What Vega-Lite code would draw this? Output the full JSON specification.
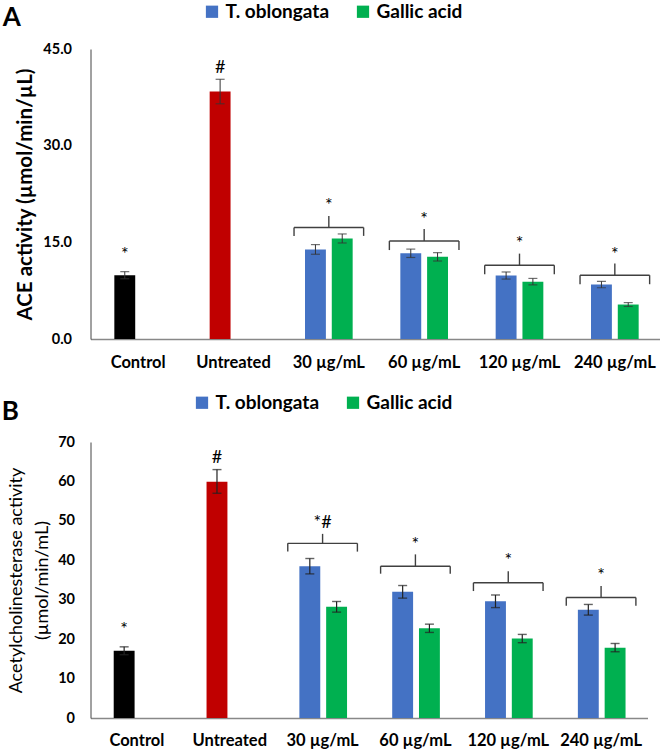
{
  "$schema": "https://vega.github.io/schema/vega-lite/v6.json",
  "padding": {"left": 1.5, "top": 2, "right": 0, "bottom": 0},
  "config": {
    "font": "Lato",
    "view": {"stroke": null},
    "axis": {"labelColor": "#000", "titleColor": "#000", "grid": false, "ticks": false, "labelOverlap": false}
  },
  "resolve": {"scale": {"color": "independent"}, "legend": {"color": "independent"}},
  "spacing": 22,
  "datasets": {
    "barsA": [
      {"cat": "Control", "series": "Control", "slot": "L", "value": 9.9, "lo": 9.35, "hi": 10.45},
      {"cat": "Untreated", "series": "Untreated", "slot": "L", "value": 38.4, "lo": 36.5, "hi": 40.3},
      {"cat": "30 µg/mL", "series": "T. oblongata", "slot": "L", "value": 13.9, "lo": 13.15, "hi": 14.65},
      {"cat": "30 µg/mL", "series": "Gallic acid", "slot": "R", "value": 15.6, "lo": 14.9, "hi": 16.3},
      {"cat": "60 µg/mL", "series": "T. oblongata", "slot": "L", "value": 13.3, "lo": 12.65, "hi": 13.95},
      {"cat": "60 µg/mL", "series": "Gallic acid", "slot": "R", "value": 12.75, "lo": 12.1, "hi": 13.4},
      {"cat": "120 µg/mL", "series": "T. oblongata", "slot": "L", "value": 9.85, "lo": 9.3, "hi": 10.4},
      {"cat": "120 µg/mL", "series": "Gallic acid", "slot": "R", "value": 8.9, "lo": 8.4, "hi": 9.4},
      {"cat": "240 µg/mL", "series": "T. oblongata", "slot": "L", "value": 8.45, "lo": 7.95, "hi": 8.95},
      {"cat": "240 µg/mL", "series": "Gallic acid", "slot": "R", "value": 5.35, "lo": 5.05, "hi": 5.65}
    ],
    "marksA": [
      {"cat": "Control", "slot": "L", "y": 13.0, "label": "*"},
      {"cat": "Untreated", "slot": "L", "y": 42.1, "label": "#"}
    ],
    "bracesA": [
      {"cat": "30 µg/mL", "yb": 17.3, "yhook": 16.0, "ynub": 19.1, "ylab": 20.7, "label": "*"},
      {"cat": "60 µg/mL", "yb": 15.2, "yhook": 13.8, "ynub": 17.05, "ylab": 18.5, "label": "*"},
      {"cat": "120 µg/mL", "yb": 11.45, "yhook": 10.05, "ynub": 13.25, "ylab": 14.8, "label": "*"},
      {"cat": "240 µg/mL", "yb": 9.9, "yhook": 8.5, "ynub": 11.7, "ylab": 13.1, "label": "*"}
    ],
    "barsB": [
      {"cat": "Control", "series": "Control", "slot": "L", "value": 17.05, "lo": 16.05, "hi": 18.05},
      {"cat": "Untreated", "series": "Untreated", "slot": "L", "value": 59.9, "lo": 57.0, "hi": 63.0},
      {"cat": "30 µg/mL", "series": "T. oblongata", "slot": "L", "value": 38.5, "lo": 36.55, "hi": 40.45},
      {"cat": "30 µg/mL", "series": "Gallic acid", "slot": "R", "value": 28.2, "lo": 26.85, "hi": 29.55},
      {"cat": "60 µg/mL", "series": "T. oblongata", "slot": "L", "value": 32.0, "lo": 30.4, "hi": 33.6},
      {"cat": "60 µg/mL", "series": "Gallic acid", "slot": "R", "value": 22.75, "lo": 21.7, "hi": 23.8},
      {"cat": "120 µg/mL", "series": "T. oblongata", "slot": "L", "value": 29.6, "lo": 28.0, "hi": 31.2},
      {"cat": "120 µg/mL", "series": "Gallic acid", "slot": "R", "value": 20.15, "lo": 19.1, "hi": 21.2},
      {"cat": "240 µg/mL", "series": "T. oblongata", "slot": "L", "value": 27.45, "lo": 26.1, "hi": 28.8},
      {"cat": "240 µg/mL", "series": "Gallic acid", "slot": "R", "value": 17.8, "lo": 16.8, "hi": 18.9}
    ],
    "marksB": [
      {"cat": "Control", "slot": "L", "y": 22.3, "label": "*"},
      {"cat": "Untreated", "slot": "L", "y": 66.0, "label": "#"}
    ],
    "bracesB": [
      {"cat": "30 µg/mL", "yb": 44.3, "yhook": 42.2, "ynub": 46.7, "ylab": 49.4, "label": "*#"},
      {"cat": "60 µg/mL", "yb": 38.5, "yhook": 36.6, "ynub": 41.5, "ylab": 44.0, "label": "*"},
      {"cat": "120 µg/mL", "yb": 34.3, "yhook": 32.2, "ynub": 37.2, "ylab": 39.7, "label": "*"},
      {"cat": "240 µg/mL", "yb": 30.55, "yhook": 28.45, "ynub": 33.5, "ylab": 35.95, "label": "*"}
    ]
  },
  "vconcat": [
    {
      "title": {"text": "A", "anchor": "start", "frame": "bounds", "fontSize": 26, "fontWeight": "bold", "color": "#000", "dy": 33, "dx": -13},
      "width": 572,
      "height": 290,
      "resolve": {"scale": {"x": "independent"}},
      "layer": [
        {
          "data": {"name": "barsA"},
          "layer": [
            {
              "mark": {"type": "bar"},
              "encoding": {
                "x": {"field": "cat", "type": "nominal", "sort": null,
                  "scale": {"domain": ["Control", "Untreated", "30 µg/mL", "60 µg/mL", "120 µg/mL", "240 µg/mL"], "paddingInner": 0.5, "paddingOuter": 0.25},
                  "axis": {"title": null, "labelAngle": 0, "labelPadding": 15, "labelFontSize": 16.5, "labelFontWeight": "bold", "domainColor": "#888", "domainWidth": 1.5}},
                "xOffset": {"field": "slot", "type": "nominal", "scale": {"domain": ["L", "R"], "paddingInner": 0.22, "paddingOuter": 0}},
                "y": {"field": "value", "type": "quantitative",
                  "scale": {"domain": [0, 45], "nice": false},
                  "axis": {"title": "ACE activity (µmol/min/µL)", "values": [0, 15, 30, 45], "format": ".1f", "labelOverlap": false, "labelPadding": 19, "labelFontSize": 14.5, "labelFontWeight": "bold", "titleFontSize": 20.5, "titleFontWeight": "bold", "titlePadding": 7, "domainColor": "#444"}},
                "color": {"field": "series", "type": "nominal",
                  "scale": {"domain": ["T. oblongata", "Gallic acid", "Control", "Untreated"], "range": ["#4472C4", "#00B050", "#000000", "#C00000"]},
                  "legend": {"values": ["T. oblongata", "Gallic acid"], "title": null, "orient": "none", "direction": "horizontal", "legendX": 112, "legendY": -47, "symbolType": "square", "symbolSize": 150, "symbolStrokeWidth": 0, "labelFontSize": 19, "labelFontWeight": "bold", "labelColor": "#000", "columnPadding": 24, "labelOffset": 4}}
              }
            },
            {
              "mark": {"type": "rule", "color": "#333", "strokeWidth": 1},
              "encoding": {
                "x": {"field": "cat", "type": "nominal", "bandPosition": 0.5},
                "xOffset": {"field": "slot", "type": "nominal"},
                "y": {"field": "lo", "type": "quantitative"},
                "y2": {"field": "hi"}
              }
            },
            {
              "mark": {"type": "tick", "color": "#333", "size": 9, "thickness": 1.2},
              "encoding": {
                "x": {"field": "cat", "type": "nominal"},
                "xOffset": {"field": "slot", "type": "nominal"},
                "y": {"field": "lo", "type": "quantitative"}
              }
            },
            {
              "mark": {"type": "tick", "color": "#333", "size": 9, "thickness": 1.2},
              "encoding": {
                "x": {"field": "cat", "type": "nominal"},
                "xOffset": {"field": "slot", "type": "nominal"},
                "y": {"field": "hi", "type": "quantitative"}
              }
            },
            {
              "data": {"name": "marksA"},
              "mark": {"type": "text", "fontSize": 18, "baseline": "middle", "color": "#000"},
              "encoding": {
                "x": {"field": "cat", "type": "nominal"},
                "xOffset": {"field": "slot", "type": "nominal"},
                "y": {"field": "y", "type": "quantitative"},
                "text": {"field": "label"}
              }
            }
          ]
        },
        {
          "data": {"name": "bracesA"},
          "layer": [
            {
              "mark": {"type": "rule", "color": "#404040", "strokeWidth": 1.4},
              "encoding": {
                "x": {"field": "cat", "type": "nominal", "bandPosition": 0,
                  "scale": {"domain": ["Control", "Untreated", "30 µg/mL", "60 µg/mL", "120 µg/mL", "240 µg/mL"], "paddingInner": 0.27, "paddingOuter": 0.135}, "axis": null},
                "x2": {"field": "cat", "bandPosition": 1},
                "y": {"field": "yb", "type": "quantitative"}
              }
            },
            {
              "mark": {"type": "rule", "color": "#404040", "strokeWidth": 1.4},
              "encoding": {
                "x": {"field": "cat", "type": "nominal", "bandPosition": 0, "axis": null},
                "y": {"field": "yb", "type": "quantitative"},
                "y2": {"field": "yhook"}
              }
            },
            {
              "mark": {"type": "rule", "color": "#404040", "strokeWidth": 1.4},
              "encoding": {
                "x": {"field": "cat", "type": "nominal", "bandPosition": 1, "axis": null},
                "y": {"field": "yb", "type": "quantitative"},
                "y2": {"field": "yhook"}
              }
            },
            {
              "mark": {"type": "rule", "color": "#404040", "strokeWidth": 1.4},
              "encoding": {
                "x": {"field": "cat", "type": "nominal", "bandPosition": 0.5, "axis": null},
                "y": {"field": "yb", "type": "quantitative"},
                "y2": {"field": "ynub"}
              }
            },
            {
              "mark": {"type": "text", "fontSize": 18, "baseline": "middle", "color": "#000"},
              "encoding": {
                "x": {"field": "cat", "type": "nominal", "bandPosition": 0.5, "axis": null},
                "y": {"field": "ylab", "type": "quantitative"},
                "text": {"field": "label"}
              }
            }
          ]
        }
      ]
    },
    {
      "title": {"text": "B", "anchor": "start", "frame": "bounds", "fontSize": 26, "fontWeight": "bold", "color": "#000", "dy": 36, "dx": -6},
      "width": 557,
      "height": 276,
      "resolve": {"scale": {"x": "independent"}},
      "layer": [
        {
          "data": {"name": "barsB"},
          "layer": [
            {
              "mark": {"type": "bar"},
              "encoding": {
                "x": {"field": "cat", "type": "nominal", "sort": null,
                  "scale": {"domain": ["Control", "Untreated", "30 µg/mL", "60 µg/mL", "120 µg/mL", "240 µg/mL"], "paddingInner": 0.5, "paddingOuter": 0.25},
                  "axis": {"title": null, "labelAngle": 0, "labelPadding": 14, "labelFontSize": 16.5, "labelFontWeight": "bold", "domainColor": "#888", "domainWidth": 1.5}},
                "xOffset": {"field": "slot", "type": "nominal", "scale": {"domain": ["L", "R"], "paddingInner": 0.22, "paddingOuter": 0}},
                "y": {"field": "value", "type": "quantitative",
                  "scale": {"domain": [0, 70], "nice": false},
                  "axis": {"title": ["Acetylcholinesterase activity", "(µmol/min/mL)"], "values": [0, 10, 20, 30, 40, 50, 60, 70], "tickCount": 8, "format": "d", "labelOverlap": false, "labelSeparation": 0, "labelPadding": 16, "labelFontSize": 14.5, "labelFontWeight": "bold", "titleFontSize": 18, "titleFontWeight": "normal", "titleLineHeight": 26, "titlePadding": 6, "domainColor": "#444"}},
                "color": {"field": "series", "type": "nominal",
                  "scale": {"domain": ["T. oblongata", "Gallic acid", "Control", "Untreated"], "range": ["#4472C4", "#00B050", "#000000", "#C00000"]},
                  "legend": {"values": ["T. oblongata", "Gallic acid"], "title": null, "orient": "none", "direction": "horizontal", "legendX": 102, "legendY": -49, "symbolType": "square", "symbolSize": 150, "symbolStrokeWidth": 0, "labelFontSize": 19, "labelFontWeight": "bold", "labelColor": "#000", "columnPadding": 24, "labelOffset": 4}}
              }
            },
            {
              "mark": {"type": "rule", "color": "#222", "strokeWidth": 1.2},
              "encoding": {
                "x": {"field": "cat", "type": "nominal", "bandPosition": 0.5},
                "xOffset": {"field": "slot", "type": "nominal"},
                "y": {"field": "lo", "type": "quantitative"},
                "y2": {"field": "hi"}
              }
            },
            {
              "mark": {"type": "tick", "color": "#222", "size": 9, "thickness": 1.4},
              "encoding": {
                "x": {"field": "cat", "type": "nominal"},
                "xOffset": {"field": "slot", "type": "nominal"},
                "y": {"field": "lo", "type": "quantitative"}
              }
            },
            {
              "mark": {"type": "tick", "color": "#222", "size": 9, "thickness": 1.4},
              "encoding": {
                "x": {"field": "cat", "type": "nominal"},
                "xOffset": {"field": "slot", "type": "nominal"},
                "y": {"field": "hi", "type": "quantitative"}
              }
            },
            {
              "data": {"name": "marksB"},
              "mark": {"type": "text", "fontSize": 18, "baseline": "middle", "color": "#000"},
              "encoding": {
                "x": {"field": "cat", "type": "nominal"},
                "xOffset": {"field": "slot", "type": "nominal"},
                "y": {"field": "y", "type": "quantitative"},
                "text": {"field": "label"}
              }
            }
          ]
        },
        {
          "data": {"name": "bracesB"},
          "layer": [
            {
              "mark": {"type": "rule", "color": "#404040", "strokeWidth": 1.4},
              "encoding": {
                "x": {"field": "cat", "type": "nominal", "bandPosition": 0,
                  "scale": {"domain": ["Control", "Untreated", "30 µg/mL", "60 µg/mL", "120 µg/mL", "240 µg/mL"], "paddingInner": 0.25, "paddingOuter": 0.125}, "axis": null},
                "x2": {"field": "cat", "bandPosition": 1},
                "y": {"field": "yb", "type": "quantitative"}
              }
            },
            {
              "mark": {"type": "rule", "color": "#404040", "strokeWidth": 1.4},
              "encoding": {
                "x": {"field": "cat", "type": "nominal", "bandPosition": 0, "axis": null},
                "y": {"field": "yb", "type": "quantitative"},
                "y2": {"field": "yhook"}
              }
            },
            {
              "mark": {"type": "rule", "color": "#404040", "strokeWidth": 1.4},
              "encoding": {
                "x": {"field": "cat", "type": "nominal", "bandPosition": 1, "axis": null},
                "y": {"field": "yb", "type": "quantitative"},
                "y2": {"field": "yhook"}
              }
            },
            {
              "mark": {"type": "rule", "color": "#404040", "strokeWidth": 1.4},
              "encoding": {
                "x": {"field": "cat", "type": "nominal", "bandPosition": 0.5, "axis": null},
                "y": {"field": "yb", "type": "quantitative"},
                "y2": {"field": "ynub"}
              }
            },
            {
              "mark": {"type": "text", "fontSize": 18, "baseline": "middle", "color": "#000"},
              "encoding": {
                "x": {"field": "cat", "type": "nominal", "bandPosition": 0.5, "axis": null},
                "y": {"field": "ylab", "type": "quantitative"},
                "text": {"field": "label"}
              }
            }
          ]
        }
      ]
    }
  ]
}
